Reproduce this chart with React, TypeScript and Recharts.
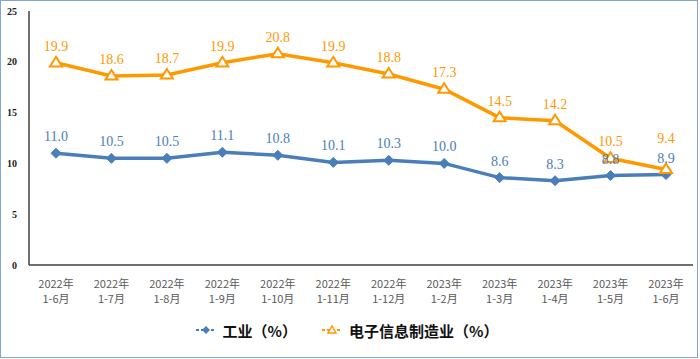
import { LineChart, Line, XAxis, YAxis, Legend, LabelList } from "recharts";

const periods = [
  "2022年|1-6月",
  "2022年|1-7月",
  "2022年|1-8月",
  "2022年|1-9月",
  "2022年|1-10月",
  "2022年|1-11月",
  "2022年|1-12月",
  "2023年|1-2月",
  "2023年|1-3月",
  "2023年|1-4月",
  "2023年|1-5月",
  "2023年|1-6月",
];
const industry = [11.0, 10.5, 10.5, 11.1, 10.8, 10.1, 10.3, 10.0, 8.6, 8.3, 8.8, 8.9];
const electronics = [19.9, 18.6, 18.7, 19.9, 20.8, 19.9, 18.8, 17.3, 14.5, 14.2, 10.5, 9.4];
const yTicks = [0, 5, 10, 15, 20, 25];

const BLUE = "#4a7ebb";
const ORANGE = "#ff9900";

const data = periods.map((p, i) => ({
  period: p,
  industry: industry[i],
  electronics: electronics[i],
}));

function PeriodTick({ x, y, payload }: any) {
  const [yr, mo] = String(payload.value).split("|");
  return (
    <text
      x={x}
      y={y}
      textAnchor="middle"
      fill="#595959"
      fontSize={11}
      fontFamily="'Noto Sans CJK SC', sans-serif"
    >
      <tspan x={x} dy={15}>
        {yr}
      </tspan>
      <tspan x={x} dy={15}>
        {mo}
      </tspan>
    </text>
  );
}

function Diamond({ cx, cy }: any) {
  if (cx == null || cy == null) return null;
  const r = 5;
  return (
    <path
      d={`M${cx},${cy - r}L${cx + r},${cy}L${cx},${cy + r}L${cx - r},${cy}Z`}
      fill={BLUE}
      stroke={BLUE}
    />
  );
}

function Triangle({ cx, cy }: any) {
  if (cx == null || cy == null) return null;
  const r = 6;
  return (
    <path
      d={`M${cx},${cy - r}L${cx + r},${cy + r * 0.6}L${cx - r},${cy + r * 0.6}Z`}
      fill="#fff"
      stroke={ORANGE}
      strokeWidth={2}
    />
  );
}

// value label; the last orange one sits higher so it clears the blue label
function ValueLabel({ x, y, width, value, index, color, lastLift }: any) {
  const lift = index === periods.length - 1 ? lastLift : 0;
  return (
    <text
      x={x + (width || 0) / 2}
      y={y - 12 - lift}
      textAnchor="middle"
      fill={color}
      fontSize={14}
      fontFamily="'Liberation Serif', serif"
    >
      {Number(value).toFixed(1)}
    </text>
  );
}

function LegendBox() {
  const item = (color: string, marker: "d" | "t", label: string) => (
    <span style={{ display: "inline-flex", alignItems: "center", margin: "0 12px" }}>
      <svg width={22} height={12} style={{ marginRight: 6 }}>
        <line x1={1} y1={6} x2={21} y2={6} stroke={color} strokeWidth={2} strokeDasharray="3 2" />
        {marker === "d" ? (
          <path d="M11,2L15,6L11,10L7,6Z" fill={color} />
        ) : (
          <path d="M11,2L15,9L7,9Z" fill="#fff" stroke={color} strokeWidth={1.5} />
        )}
      </svg>
      <span>{label}</span>
    </span>
  );
  return (
    <div
      style={{
        textAlign: "center",
        fontFamily: "'Noto Sans CJK SC', sans-serif",
        fontWeight: 700,
        fontSize: 15,
        color: "#111",
        paddingTop: 4,
      }}
    >
      {item(BLUE, "d", "工业（%）")}
      {item(ORANGE, "t", "电子信息制造业（%）")}
    </div>
  );
}

export default function App() {
  return (
    <div style={{ position: "absolute", left: 0, top: 0, width: 700, height: 359, background: "#fff" }}>
      <div
        style={{
          position: "absolute",
          left: 0,
          top: 0,
          width: 696,
          height: 356,
          border: "1px solid #7ea6da",
        }}
      />
      <LineChart width={700} height={359} data={data} margin={{ top: 11, right: 7, left: 0, bottom: 0 }}>
        <XAxis
          dataKey="period"
          interval={0}
          tick={<PeriodTick />}
          tickLine={false}
          axisLine={{ stroke: "#404040", strokeWidth: 1.5 }}
          padding={{ left: 27, right: 27 }}
          height={50}
        />
        <YAxis
          domain={[0, 25]}
          ticks={yTicks}
          width={29}
          tickLine={false}
          axisLine={{ stroke: "#404040", strokeWidth: 1.5 }}
          tick={{ fill: "#222", fontSize: 10, fontWeight: 700, fontFamily: "'Liberation Serif', serif" }}
          tickMargin={6}
        />
        <Legend verticalAlign="bottom" height={44} content={<LegendBox />} />
        <Line
          dataKey="industry"
          stroke={BLUE}
          strokeWidth={3.5}
          dot={<Diamond />}
          activeDot={false}
          isAnimationActive={false}
        >
          <LabelList dataKey="industry" content={<ValueLabel color={BLUE} lastLift={0} />} />
        </Line>
        <Line
          dataKey="electronics"
          stroke={ORANGE}
          strokeWidth={3.5}
          dot={<Triangle />}
          activeDot={false}
          isAnimationActive={false}
        >
          <LabelList dataKey="electronics" content={<ValueLabel color={ORANGE} lastLift={14} />} />
        </Line>
      </LineChart>
    </div>
  );
}
